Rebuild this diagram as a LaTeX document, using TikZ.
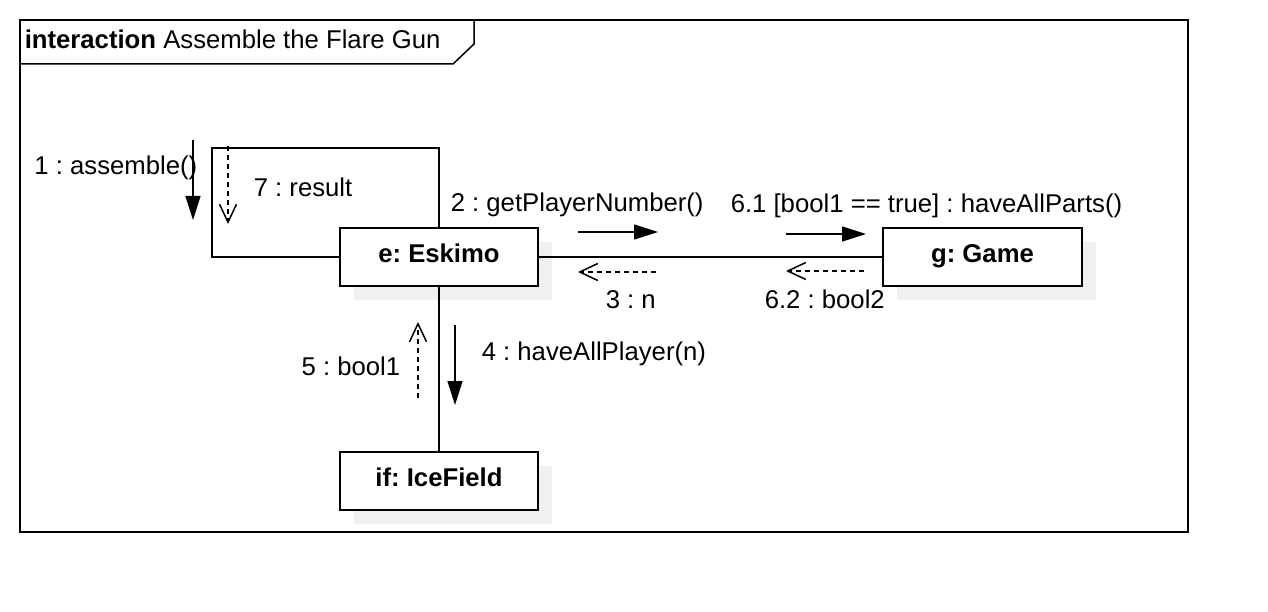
\documentclass[tikz,border=0pt]{standalone}
\usepackage{fontspec}
\setmainfont{Liberation Sans}
\usetikzlibrary{arrows.meta,shadows}
\frenchspacing
\begin{document}
\begin{tikzpicture}[x=1pt,y=-1pt, line width=1.5pt,
  obj/.style={draw, fill=white, minimum width=198pt, minimum height=58pt, inner sep=0pt,
    font=\bfseries\fontsize{25.7}{30}\selectfont, text height=19pt, text depth=9pt,
    drop shadow={shadow xshift=14pt, shadow yshift=-14pt, opacity=1, fill=black!6}},
  lbl/.style={inner sep=0pt, font=\fontsize{25.7}{30}\selectfont},
  call/.style={-{Triangle[length=24pt,width=15pt]}},
  reply/.style={dash pattern=on 5pt off 4pt, -{Straight Barb[length=18pt,width=17pt]}}
]
\useasboundingbox (0,0) rectangle (1268,612);
% frame
\draw (20,20) rectangle (1188,532);
\draw (20,64) -- (453,64) -- (474,44) -- (474,20);
\node[lbl, anchor=base west] (title) at (24,49) {\textbf{interaction} Assemble the Flare Gun};

% objects
\node[obj] (e) at (439,257) {e: Eskimo};
\node[obj, minimum width=199pt] (g) at (982.5,257) {g: Game};
\node[obj] (if) at (439,481) {if: IceField};

% links
\draw (e.north) -- (e.north |- 0,148) -- (212,148) -- (212,257) -- (e.west);
\draw (e.east) -- (g.west);
\draw (e.south) -- (if.north);

% message arrows
\coordinate (m1s) at (193,140); \coordinate (m1e) at (193,220);
\coordinate (m7s) at (228,146); \coordinate (m7e) at (228,224);
\coordinate (m2s) at (578,232); \coordinate (m2e) at (658,232);
\coordinate (m61s) at (786,234); \coordinate (m61e) at (866,234);
\coordinate (m3s) at (656,272); \coordinate (m3e) at (578,272);
\coordinate (m62s) at (864,271); \coordinate (m62e) at (786,271);
\coordinate (m4s) at (455,325); \coordinate (m4e) at (455,405);
\coordinate (m5s) at (418,398); \coordinate (m5e) at (418,322);

\draw[call] (m1s) -- (m1e);
\draw[reply] (m7s) -- (m7e);
\draw[call] (m2s) -- (m2e);
\draw[call] (m61s) -- (m61e);
\draw[reply] (m3s) -- (m3e);
\draw[reply] (m62s) -- (m62e);
\draw[call] (m4s) -- (m4e);
\draw[reply] (m5s) -- (m5e);

% labels
\node[lbl, anchor=base east] (l1) at (198,175) {1 : assemble()};
\node[lbl, anchor=base west] (l7) at (253,197) {7 : result};
\node[lbl, anchor=base west] (l2) at (450,212) {2 : getPlayerNumber()};
\node[lbl, anchor=base west] (l61) at (730,213) {6.1 [bool1 == true] : haveAllParts()};
\node[lbl, anchor=base west] (l3) at (605,308) {3 : n};
\node[lbl, anchor=base west] (l62) at (764,308) {6.2 : bool2};
\node[lbl, anchor=base west] (l4) at (481,360) {4 : haveAllPlayer(n)};
\node[lbl, anchor=base east] (l5) at (401,375) {5 : bool1};
\end{tikzpicture}
\end{document}
